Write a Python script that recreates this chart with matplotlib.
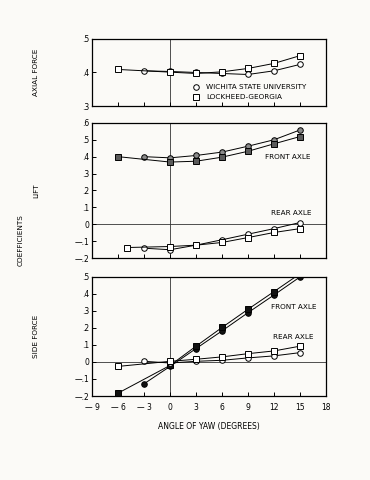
import numpy as np
import matplotlib.pyplot as plt

# angle of yaw, degrees
yaw_wsu = [-3, 0, 3, 6, 9, 12, 15]
yaw_lg = [-6, 0, 3, 6, 9, 12, 15]
yaw_lg_rear_lift = [-5, 0, 3, 6, 9, 12, 15]

# axial force
axial_wsu = [0.405, 0.403, 0.400, 0.397, 0.394, 0.405, 0.424]
axial_lg = [0.409, 0.401, 0.397, 0.402, 0.412, 0.427, 0.450]

# lift
lift_front_wsu = [0.400, 0.393, 0.407, 0.427, 0.462, 0.500, 0.558]
lift_front_lg = [0.400, 0.368, 0.373, 0.397, 0.432, 0.476, 0.519]
lift_rear_wsu = [-0.142, -0.151, -0.124, -0.092, -0.059, -0.026, 0.010]
lift_rear_lg = [-0.138, -0.132, -0.124, -0.108, -0.079, -0.049, -0.026]

# side force
side_front_wsu = [-0.128, -0.026, 0.079, 0.183, 0.290, 0.394, 0.500]
side_front_lg = [-0.183, -0.020, 0.093, 0.203, 0.310, 0.414, 0.519]
side_rear_wsu = [0.004, -0.006, 0.004, 0.010, 0.024, 0.036, 0.055]
side_rear_lg = [-0.026, 0.004, 0.016, 0.030, 0.049, 0.065, 0.093]

x_ticks = [-9, -6, -3, 0, 3, 6, 9, 12, 15, 18]
x_labels = ["\u2014 9", "\u2014 6", "\u2014 3", "0", "3", "6", "9", "12", "15", "18"]
paper = "#fbfaf7"

plt.rcParams["font.family"] = "DejaVu Sans"
fig = plt.figure(figsize=(3.7, 4.8), dpi=100, facecolor=paper)

ax_axial = fig.add_axes([0.249, 0.779, 0.632, 0.140])
ax_lift = fig.add_axes([0.249, 0.4625, 0.632, 0.2815])
ax_side = fig.add_axes([0.249, 0.175, 0.632, 0.248])


def fmt(v):
    # .4 style labels, long dash for negatives
    if abs(v) < 1e-9:
        return "0"
    s = f"{abs(v):.1f}".lstrip("0")
    return ("\u2014" + s) if v < 0 else s


def style(ax, ylo, yhi, zero_line=True):
    ax.set_facecolor(paper)
    ax.set_xlim(-9, 18)
    ax.set_ylim(ylo, yhi)
    yt = np.round(np.arange(ylo, yhi + 0.001, 0.1), 1)
    ax.set_yticks(yt)
    ax.set_yticklabels([fmt(v) for v in yt], fontsize=5.5)
    ax.set_xticks(x_ticks)
    ax.tick_params(direction="in", length=3, width=0.7, pad=2)
    ax.tick_params(axis="x", pad=5)
    for sp in ax.spines.values():
        sp.set_linewidth(0.9)
    ax.axvline(0, color="#333333", lw=0.6, zorder=1)
    if zero_line:
        ax.axhline(0, color="#333333", lw=0.6, zorder=1)


def series(ax, x, y, marker, face):
    ax.plot(x, y, color="black", lw=0.7, marker=marker, ms=4.0,
            mfc=face, mec="black", mew=0.7, zorder=3)


style(ax_axial, 0.3, 0.5, zero_line=False)
ax_axial.set_yticks([0.3, 0.4, 0.5])
ax_axial.set_yticklabels([".3", ".4", ".5"], fontsize=5.5)
ax_axial.tick_params(labelbottom=False)
series(ax_axial, yaw_wsu, axial_wsu, "o", "white")
series(ax_axial, yaw_lg, axial_lg, "s", "white")
ax_axial.plot([3.0], [0.358], marker="o", ms=4.0, mfc="white", mec="black", mew=0.7)
ax_axial.plot([3.0], [0.326], marker="s", ms=4.0, mfc="white", mec="black", mew=0.7)
ax_axial.text(4.2, 0.358, "WICHITA STATE UNIVERSITY", fontsize=5.2, va="center")
ax_axial.text(4.2, 0.326, "LOCKHEED-GEORGIA", fontsize=5.2, va="center")

style(ax_lift, -0.2, 0.6)
ax_lift.tick_params(labelbottom=False)
series(ax_lift, yaw_wsu, lift_front_wsu, "o", "#8a8a8a")
series(ax_lift, yaw_lg, lift_front_lg, "s", "#5a5a5a")
series(ax_lift, yaw_wsu, lift_rear_wsu, "o", "white")
series(ax_lift, yaw_lg_rear_lift, lift_rear_lg, "s", "white")
ax_lift.text(11.0, 0.40, "FRONT AXLE", fontsize=5.2, va="center")
ax_lift.text(11.6, 0.068, "REAR AXLE", fontsize=5.2, va="center")

style(ax_side, -0.2, 0.5)
ax_side.set_xticklabels(x_labels, fontsize=5.5)
series(ax_side, yaw_wsu, side_front_wsu, "o", "#111111")
series(ax_side, yaw_lg, side_front_lg, "s", "#111111")
series(ax_side, yaw_wsu, side_rear_wsu, "o", "white")
series(ax_side, yaw_lg, side_rear_lg, "s", "white")
ax_side.text(11.6, 0.325, "FRONT AXLE", fontsize=5.2, va="center")
ax_side.text(11.9, 0.148, "REAR AXLE", fontsize=5.2, va="center")
ax_side.set_xlabel("ANGLE OF YAW (DEGREES)", fontsize=5.5, labelpad=7)

fig.text(0.097, 0.849, "AXIAL FORCE", rotation=90, fontsize=5.2,
         ha="center", va="center")
fig.text(0.097, 0.603, "LIFT", rotation=90, fontsize=5.2,
         ha="center", va="center")
fig.text(0.097, 0.30, "SIDE FORCE", rotation=90, fontsize=5.2,
         ha="center", va="center")
fig.text(0.057, 0.50, "COEFFICIENTS", rotation=90, fontsize=5.2,
         ha="center", va="center")

fig.savefig("out.png", dpi=100, facecolor=paper)
